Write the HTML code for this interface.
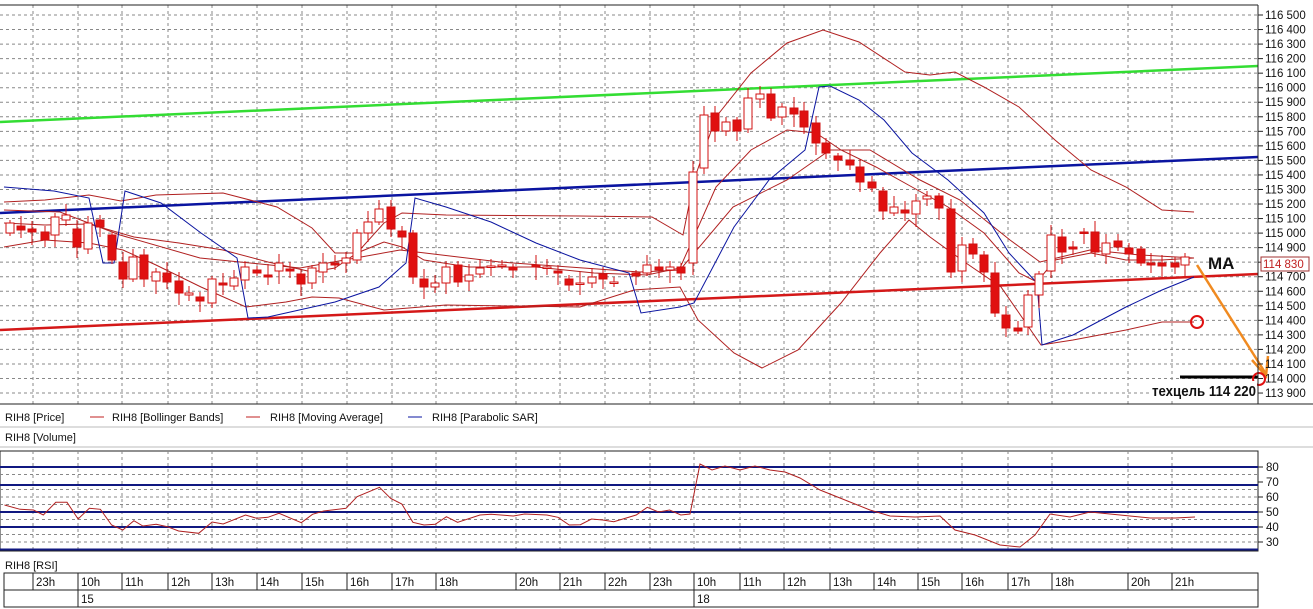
<!DOCTYPE html><html><head><meta charset="utf-8"><style>
body{margin:0;background:#fff;width:1313px;height:609px;overflow:hidden;font-family:"Liberation Sans",sans-serif}
svg{display:block}
</style></head><body>
<svg id="s" width="1313" height="609" xmlns="http://www.w3.org/2000/svg" font-family="Liberation Sans, sans-serif">
<rect width="1313" height="609" fill="#fff"/>
<g id="grid"></g>
<line x1="0" y1="122" x2="1258" y2="66" stroke="#33dd33" stroke-width="2.5"/>
<line x1="0" y1="213" x2="1258" y2="157" stroke="#0a14a0" stroke-width="2.5"/>
<line x1="0" y1="330" x2="1258" y2="274" stroke="#d41818" stroke-width="2.5"/>
<g id="lines" fill="none"></g>
<g id="candles"></g>
<circle cx="1197" cy="322" r="6" fill="none" stroke="#e01010" stroke-width="2"/>
<line x1="1197" y1="265" x2="1266" y2="374" stroke="#f08a20" stroke-width="2.5"/>
<polyline points="1252,360 1266,376 1268,356" fill="none" stroke="#f08a20" stroke-width="2.5"/>
<line x1="1180" y1="377" x2="1258" y2="377" stroke="#000" stroke-width="3"/>
<circle cx="1259" cy="379" r="6" fill="none" stroke="#e01010" stroke-width="2"/>
<text x="1208" y="269" font-size="17" font-weight="bold" fill="#111">MA</text>
<rect x="1150" y="381" width="107" height="18" fill="#fff"/>
<text x="1152" y="396" font-size="15" font-weight="bold" fill="#111" textLength="104" lengthAdjust="spacingAndGlyphs">техцель 114 220</text>
<line x1="1258" y1="5" x2="1258" y2="404" stroke="#222"/>
<line x1="0" y1="404" x2="1313" y2="404" stroke="#222"/>
<line x1="0" y1="5" x2="1258" y2="5" stroke="#222"/>
<g id="axis" font-size="11.5" fill="#111"></g>
<rect x="1261" y="257" width="48" height="14" fill="#fff" stroke="#a03030"/>
<text x="1263" y="268" font-size="11.5" fill="#c02020">114 830</text>
<g font-size="11" fill="#111">
<text x="5" y="421">RIH8 [Price]</text>
<line x1="90" y1="417" x2="104" y2="417" stroke="#c02020"/><text x="112" y="421">RIH8 [Bollinger Bands]</text>
<line x1="246" y1="417" x2="260" y2="417" stroke="#c02020"/><text x="270" y="421">RIH8 [Moving Average]</text>
<line x1="408" y1="417" x2="422" y2="417" stroke="#0a14a0"/><text x="432" y="421">RIH8 [Parabolic SAR]</text>
<text x="5" y="441">RIH8 [Volume]</text>
<text x="5" y="569">RIH8 [RSI]</text>
</g>
<line x1="0" y1="427" x2="1313" y2="427" stroke="#bbb"/>
<line x1="0" y1="447" x2="1313" y2="447" stroke="#bbb"/>
<g id="rsi"></g>
<g id="time" font-size="11.5" fill="#111"></g>
</svg>
<script>
var NS="http://www.w3.org/2000/svg";
function el(p,t,a,txt){var e=document.createElementNS(NS,t);for(var k in a)e.setAttribute(k,a[k]);if(txt!==undefined)e.textContent=txt;document.getElementById(p).appendChild(e);return e;}
var hx=[33,78,122,168,212,257,302,347,392,436,516,560,605,650,694,740,784,830,874,918,962,1008,1052,1128,1172];
var dash={stroke:"#888","stroke-dasharray":"3,3","stroke-width":1};
function yp(p){return 15+(116500-p)/100*14.54;}
for(var p=113900;p<=116500;p+=100){var y=yp(p);el("grid","line",Object.assign({x1:0,x2:1258,y1:y,y2:y},dash));
el("axis","line",{x1:1258,x2:1263,y1:y,y2:y,stroke:"#222"});
var s=String(p);el("axis","text",{x:1265,y:y+4},s.slice(0,3)+" "+s.slice(3));}
hx.forEach(function(x){el("grid","line",Object.assign({x1:x,x2:x,y1:5,y2:404},dash));});
function pl(pts,col,w){el("lines","polyline",{points:pts,stroke:col,"stroke-width":w||1,fill:"none"});}
var R="#b02020";
pl("4,202 45,200 89,195 121,201 156,195 223,193 277,207 312,228 335,253 357,253 384,223 402,213 446,215 580,216 652,217 683,235 694,180 716,117 751,73 787,43 823,30 859,42 905,72 930,75 955,72 984,87 1019,107 1055,140 1091,170 1126,187 1162,210 1194,212",R);
pl("4,247 45,240 89,243 123,250 156,265 201,287 246,307 286,302 312,297 339,298 384,310 446,305 580,307 634,290 680,287 698,320 734,353 762,368 798,350 841,303 880,253 909,220 930,237 966,263 1001,287 1019,313 1041,345 1073,340 1126,330 1162,322 1194,322",R);
pl("4,223 45,225 89,224 134,237 179,243 223,250 268,262 312,272 335,268 357,253 384,242 402,247 424,260 469,267 536,267 594,273 647,275 680,268 716,187 751,150 787,130 816,133 841,150 876,167 912,187 948,207 984,233 1019,273 1037,282 1055,260 1091,253 1126,260 1162,260 1194,258",R);
pl("4,210 60,212 120,235 200,258 300,268 400,250 500,262 640,272 680,270 733,207 787,180 830,150 870,150 920,180 960,200 1010,240 1040,262 1090,250 1140,255 1194,258",R);
pl("4,187 54,191 89,198 103,263 114,263 125,191 161,203 201,233 237,258 248,318 268,317 335,302 379,287 406,263 415,198 446,207 491,222 536,243 580,260 629,273 641,313 680,307 694,303 734,227 769,180 805,150 819,87 830,86 859,100 884,120 912,153 948,180 984,213 1009,253 1037,283 1042,345 1073,335 1126,307 1162,290 1194,277","#0a14a0");
var C=[[10,223,233,'h'],[21,226,230,'f'],[32,229,232,'f'],[45,232,240,'f'],[55,217,235,'h'],[66,215,220,'h'],[77,229,247,'f'],[88,223,249,'h'],[100,220,227,'f'],[112,235,260,'f'],[123,262,279,'f'],[133,257,279,'h'],[144,255,279,'f'],[156,272,281,'h'],[167,273,282,'f'],[179,281,293,'f'],[189,293,295,'h'],[200,297,301,'f'],[212,279,303,'h'],[223,283,285,'f'],[234,278,286,'h'],[245,267,280,'h'],[257,270,273,'f'],[268,275,277,'f'],[279,263,271,'h'],[290,269,271,'f'],[301,274,284,'f'],[312,268,283,'h'],[323,263,272,'h'],[335,263,265,'f'],[346,258,263,'h'],[357,233,260,'h'],[368,222,233,'h'],[379,209,222,'h'],[391,207,229,'f'],[402,231,237,'f'],[413,233,277,'f'],[424,279,287,'f'],[435,283,287,'h'],[446,267,283,'h'],[458,265,282,'f'],[469,275,281,'h'],[480,268,274,'h'],[491,266,267,'h'],[502,265,266,'h'],[513,267,270,'f'],[536,265,267,'f'],[547,267,268,'h'],[558,271,273,'f'],[569,279,285,'f'],[580,283,284,'h'],[592,277,283,'h'],[603,274,279,'f'],[614,282,283,'h'],[636,273,276,'f'],[647,265,273,'h'],[659,267,270,'f'],[670,267,270,'h'],[681,267,273,'f'],[693,172,263,'h'],[704,115,168,'h'],[715,113,131,'f'],[726,122,131,'h'],[737,120,131,'f'],[748,98,129,'h'],[760,94,99,'h'],[771,94,118,'f'],[782,107,117,'h'],[794,108,114,'f'],[804,111,127,'f'],[816,123,143,'f'],[826,143,153,'f'],[838,156,160,'f'],[850,160,165,'f'],[860,167,182,'f'],[872,182,188,'f'],[883,191,211,'f'],[894,207,213,'h'],[905,210,213,'f'],[916,201,214,'h'],[927,196,199,'h'],[939,196,208,'f'],[951,209,272,'f'],[962,245,271,'h'],[973,244,254,'f'],[984,255,272,'f'],[995,273,313,'f'],[1006,315,328,'f'],[1018,328,331,'f'],[1028,295,327,'h'],[1039,274,295,'h'],[1051,235,271,'h'],[1062,237,252,'f'],[1073,247,249,'f'],[1084,232,233,'f'],[1095,232,252,'f'],[1106,243,254,'h'],[1118,241,247,'f'],[1129,248,254,'f'],[1141,249,263,'f'],[1151,263,265,'f'],[1162,263,266,'f'],[1175,263,267,'f'],[1185,257,265,'h']];
C.forEach(function(c,i){var h=c[2]-c[1];var wt=c[1]-3-(i*7%9),wb=c[2]+3+(i*5%11);
el("candles","line",{x1:c[0],x2:c[0],y1:wt,y2:wb,stroke:"#d01010"});
el("candles","rect",{x:c[0]-4,y:c[1],width:8,height:Math.max(h,1.5),fill:c[3]=='f'?"#e01010":"#fff",stroke:"#d01010"});});
function yr(v){return 467+(80-v)*1.5;}
el("rsi","rect",{x:0,y:451,width:1258,height:100,fill:"none",stroke:"#222"});
[75,65,60,55,45,35,30].forEach(function(v){el("rsi","line",Object.assign({x1:0,x2:1258,y1:yr(v),y2:yr(v)},dash));});
hx.forEach(function(x){el("rsi","line",Object.assign({x1:x,x2:x,y1:451,y2:551},dash));});
[80,68,50,40,25].forEach(function(v){el("rsi","line",{x1:0,x2:1258,y1:yr(v),y2:yr(v),stroke:"#101880","stroke-width":2});});
[80,70,60,50,40,30].forEach(function(v){el("rsi","line",{x1:1258,x2:1263,y1:yr(v),y2:yr(v),stroke:"#222"});el("rsi","text",{x:1266,y:yr(v)+4,"font-size":11.5,fill:"#111"},v);});
var rz=[[10,315],[45,328],[75,330],[97,345],[125,307],[150,307],[175,357],[200,325],[225,328],[250,375],[275,390],[300,362],[320,378],[350,373],[375,380],[400,393],[445,400],[475,366],[500,372],[550,345],[575,355],[600,352],[625,340],[675,368],[700,343],[725,333],[775,325],[800,290],[850,262],[875,295],[900,312],[925,367],[950,375],[975,373],[1000,350],[1025,367],[1075,345],[1100,343],[1150,348],[1175,342],[1225,345],[1250,352],[1275,375],[1300,374],[1325,357],[1350,360],[1375,365],[1425,345],[1450,322],[1475,336],[1500,330],[1525,345]];
var pts=rz.map(function(p){return (p[0]/2.24).toFixed(1)+","+(400+p[1]/3).toFixed(1);}).join(" ");
pts+=" 690,514 700,464 712,470 725,466 740,470 755,466 770,470 785,472 800,478 820,490 845,500 870,510 890,516 915,517 940,516 955,530 975,535 1000,545 1020,547 1035,535 1050,514 1070,517 1090,512 1110,514 1130,516 1150,518 1175,518 1195,517";
el("rsi","polyline",{points:pts,fill:"none",stroke:"#b02020","stroke-width":1});
el("time","rect",{x:4,y:573,width:1254,height:34,fill:"none",stroke:"#222"});
el("time","line",{x1:4,x2:1258,y1:590,y2:590,stroke:"#222"});
var lab=["23h","10h","11h","12h","13h","14h","15h","16h","17h","18h","20h","21h","22h","23h","10h","11h","12h","13h","14h","15h","16h","17h","18h","20h","21h"];
hx.forEach(function(x,i){el("time","line",{x1:x,x2:x,y1:573,y2:590,stroke:"#222"});el("time","text",{x:x+3,y:586},lab[i]);});
[78,694].forEach(function(x,i){el("time","line",{x1:x,x2:x,y1:590,y2:607,stroke:"#222"});el("time","text",{x:x+3,y:603},i?"18":"15");});
</script>
</body></html>
